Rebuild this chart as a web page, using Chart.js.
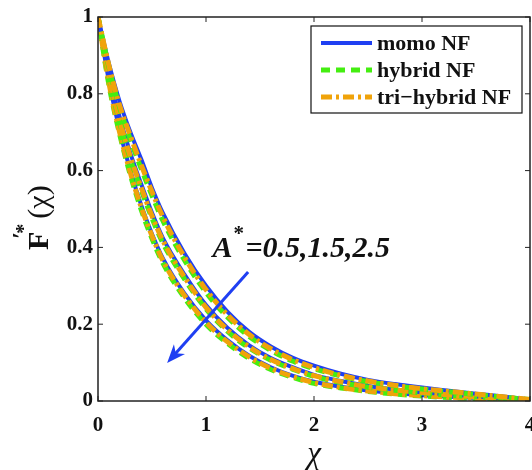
<!DOCTYPE html>
<html>
<head>
<meta charset="utf-8">
<script src="https://cdn.jsdelivr.net/npm/chart.js@4.4.1/dist/chart.umd.min.js"></script>
<style>
  body { margin: 0; background: #fff; }
  #wrap { width: 532px; height: 470px; }
</style>
</head>
<body>
<div id="wrap"><canvas id="myChart" width="532" height="470"></canvas></div>
<script>
// chi values
const chi = [0, 0.1, 0.2, 0.3, 0.4, 0.5, 0.6, 0.8, 1.0, 1.2, 1.4, 1.6, 1.8, 2.0, 2.25, 2.5, 2.75, 3.0, 3.25, 3.5, 3.75, 4.0];

// A* = 0.5
const mono05 = [1, 0.88, 0.78, 0.70, 0.63, 0.555, 0.49, 0.385, 0.30, 0.232, 0.18, 0.142, 0.113, 0.092, 0.071, 0.055, 0.044, 0.035, 0.027, 0.019, 0.012, 0.004];
const hyb05 = [1, 0.87, 0.765, 0.68, 0.605, 0.535, 0.47, 0.367, 0.283, 0.218, 0.168, 0.132, 0.104, 0.084, 0.065, 0.05, 0.04, 0.031, 0.024, 0.017, 0.01, 0.004];
const tri05 = [1, 0.875, 0.77, 0.69, 0.615, 0.545, 0.48, 0.375, 0.29, 0.224, 0.173, 0.136, 0.108, 0.087, 0.067, 0.052, 0.041, 0.032, 0.025, 0.018, 0.011, 0.004];
// A* = 1.5
const mono15 = [1, 0.855, 0.74, 0.645, 0.565, 0.49, 0.425, 0.33, 0.25, 0.19, 0.145, 0.112, 0.088, 0.068, 0.052, 0.039, 0.03, 0.023, 0.017, 0.012, 0.007, 0.003];
const hyb15 = [1, 0.845, 0.726, 0.63, 0.55, 0.476, 0.412, 0.318, 0.24, 0.181, 0.138, 0.106, 0.083, 0.064, 0.048, 0.036, 0.028, 0.021, 0.015, 0.011, 0.006, 0.003];
const tri15 = [1, 0.85, 0.732, 0.636, 0.556, 0.482, 0.418, 0.323, 0.244, 0.185, 0.141, 0.108, 0.085, 0.066, 0.05, 0.037, 0.029, 0.022, 0.016, 0.011, 0.007, 0.003];
// A* = 2.5
const mono25 = [1, 0.835, 0.705, 0.6, 0.51, 0.435, 0.372, 0.28, 0.21, 0.158, 0.118, 0.088, 0.066, 0.05, 0.037, 0.027, 0.02, 0.015, 0.011, 0.008, 0.005, 0.002];
const hyb25 = [1, 0.825, 0.695, 0.588, 0.498, 0.423, 0.36, 0.269, 0.2, 0.15, 0.111, 0.082, 0.062, 0.046, 0.034, 0.025, 0.018, 0.013, 0.009, 0.006, 0.004, 0.002];
const tri25 = [1, 0.83, 0.70, 0.594, 0.505, 0.43, 0.366, 0.275, 0.205, 0.154, 0.115, 0.085, 0.064, 0.048, 0.035, 0.026, 0.019, 0.014, 0.01, 0.007, 0.004, 0.002];

const xTicks = [0, 1, 2, 3, 4];
const yTicks = [0, 0.2, 0.4, 0.6, 0.8, 1];
const legendNames = ['momo NF', 'hybrid NF', 'tri\u2212hybrid NF'];

const BLUE = '#1f3ff2';
const GREEN = '#44ee11';
const ORANGE = '#f0a30a';
const SERIF = '"Liberation Serif", "DejaVu Serif", serif';

const styles = {
    mono: { borderColor: BLUE, borderWidth: 4, borderDash: [] },
    hyb: { borderColor: GREEN, borderWidth: 5, borderDash: [9, 6] },
    tri: { borderColor: ORANGE, borderWidth: 5, borderDash: [11, 4, 3, 4] }
};

function series(vals, kind) {
    return Object.assign({
        data: chi.map((x, i) => ({ x: x, y: vals[i] })),
        pointRadius: 0,
        fill: false,
        cubicInterpolationMode: 'monotone',
        kind: kind
    }, styles[kind]);
}

// frame, inward ticks, legend box, labels, arrow
const decor = {
    id: 'decor',
    afterDatasetsDraw(chart) {
        const ctx = chart.ctx;
        const a = chart.chartArea;
        const xs = chart.scales.x, ys = chart.scales.y;
        ctx.save();
        ctx.strokeStyle = '#222';
        ctx.lineWidth = 1.5;
        ctx.strokeRect(a.left, a.top, a.right - a.left, a.bottom - a.top);
        ctx.lineWidth = 1;
        xTicks.forEach(t => {
            const p = xs.getPixelForValue(t);
            ctx.beginPath();
            ctx.moveTo(p, a.bottom); ctx.lineTo(p, a.bottom - 5);
            ctx.moveTo(p, a.top); ctx.lineTo(p, a.top + 5);
            ctx.stroke();
        });
        yTicks.forEach(t => {
            const p = ys.getPixelForValue(t);
            ctx.beginPath();
            ctx.moveTo(a.left, p); ctx.lineTo(a.left + 5, p);
            ctx.moveTo(a.right, p); ctx.lineTo(a.right - 5, p);
            ctx.stroke();
        });

        // legend
        const lx = 311, ly = 26, lw = 211, lh = 87;
        ctx.fillStyle = '#fff';
        ctx.fillRect(lx, ly, lw, lh);
        ctx.strokeStyle = '#111';
        ctx.lineWidth = 1.2;
        ctx.strokeRect(lx, ly, lw, lh);
        ['mono', 'hyb', 'tri'].forEach((k, i) => {
            const y = 43 + i * 27;
            const s = styles[k];
            ctx.beginPath();
            ctx.strokeStyle = s.borderColor;
            ctx.lineWidth = s.borderWidth;
            ctx.setLineDash(s.borderDash);
            ctx.moveTo(321, y); ctx.lineTo(372, y);
            ctx.stroke();
            ctx.setLineDash([]);
            ctx.fillStyle = '#111';
            ctx.font = 'bold 22px ' + SERIF;
            ctx.textBaseline = 'middle';
            ctx.textAlign = 'left';
            ctx.fillText(legendNames[i], 377, y + 1);
        });

        // A* label
        const tx = xs.getPixelForValue(1.06), ty = ys.getPixelForValue(0.376);
        ctx.fillStyle = '#111';
        ctx.textBaseline = 'alphabetic';
        ctx.font = 'italic bold 30px ' + SERIF;
        ctx.fillText('A', tx, ty);
        let w = ctx.measureText('A').width;
        ctx.font = 'bold 21px ' + SERIF;
        ctx.fillText('*', tx + w + 1, ty - 17);
        ctx.font = 'italic bold 30px ' + SERIF;
        ctx.fillText('=0.5,1.5,2.5', tx + w + 13, ty);

        // arrow
        const x1 = xs.getPixelForValue(1.39), y1 = ys.getPixelForValue(0.336);
        const x2 = xs.getPixelForValue(0.64), y2 = ys.getPixelForValue(0.099);
        const ang = Math.atan2(y2 - y1, x2 - x1);
        ctx.strokeStyle = BLUE;
        ctx.fillStyle = BLUE;
        ctx.lineWidth = 3;
        ctx.beginPath();
        ctx.moveTo(x1, y1);
        ctx.lineTo(x2 - 10 * Math.cos(ang), y2 - 10 * Math.sin(ang));
        ctx.stroke();
        ctx.beginPath();
        ctx.moveTo(x2, y2);
        ctx.lineTo(x2 - 20 * Math.cos(ang - 0.38), y2 - 20 * Math.sin(ang - 0.38));
        ctx.lineTo(x2 - 13 * Math.cos(ang), y2 - 13 * Math.sin(ang));
        ctx.lineTo(x2 - 20 * Math.cos(ang + 0.38), y2 - 20 * Math.sin(ang + 0.38));
        ctx.closePath();
        ctx.fill();

        // axis titles
        ctx.fillStyle = '#111';
        ctx.textAlign = 'center';
        ctx.font = 'italic 31px ' + SERIF;
        ctx.fillText('\u03c7', xs.getPixelForValue(2), 463);

        ctx.translate(48, 250);
        ctx.rotate(-Math.PI / 2);
        ctx.textAlign = 'left';
        ctx.font = 'bold 30px ' + SERIF;
        ctx.fillText('F', 0, 0);
        let px = ctx.measureText('F').width;
        ctx.font = 'bold 24px ' + SERIF;
        ctx.fillText('\u2032', px - 7, -20);
        ctx.font = 'bold 20px ' + SERIF;
        ctx.fillText('*', px - 2, -18);
        px += 13;
        ctx.font = '30px ' + SERIF;
        ctx.fillText('(\u03c7)', px, 0);
        ctx.restore();
    }
};

const chart = new Chart(document.getElementById('myChart').getContext('2d'), {
    type: 'line',
    data: {
        datasets: [
            series(tri05, 'tri'), series(hyb05, 'hyb'), series(mono05, 'mono'),
            series(tri15, 'tri'), series(hyb15, 'hyb'), series(mono15, 'mono'),
            series(tri25, 'tri'), series(hyb25, 'hyb'), series(mono25, 'mono')
        ]
    },
    options: {
        responsive: false,
        animation: false,
        events: [],
        layout: { padding: { top: 17, right: 2, left: 0, bottom: 0 } },
        plugins: { legend: { display: false }, tooltip: { enabled: false } },
        scales: {
            x: {
                type: 'linear', min: 0, max: 4,
                afterBuildTicks: s => { s.ticks = xTicks.map(v => ({ value: v })); },
                afterFit: s => { s.height = 69; s.paddingLeft = 0; s.paddingRight = 0; },
                grid: { display: false, tickLength: 0 },
                border: { display: false },
                ticks: {
                    color: '#111', padding: 12,
                    font: { family: SERIF, size: 21, weight: 'bold' },
                    callback: v => String(v)
                }
            },
            y: {
                min: 0, max: 1,
                afterBuildTicks: s => { s.ticks = yTicks.map(v => ({ value: v })); },
                afterFit: s => { s.width = 98; s.paddingTop = 0; s.paddingBottom = 0; },
                grid: { display: false, tickLength: 0 },
                border: { display: false },
                ticks: {
                    color: '#111', padding: 5,
                    font: { family: SERIF, size: 21, weight: 'bold' },
                    callback: v => String(+v.toFixed(1))
                }
            }
        }
    },
    plugins: [decor]
});
</script>
</body>
</html>
